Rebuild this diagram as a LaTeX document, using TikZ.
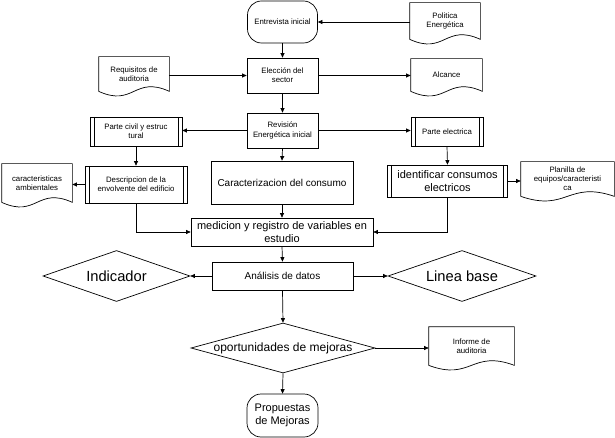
\documentclass[tikz,border=0pt]{standalone}
\usepackage{fontspec}
\setmainfont{Liberation Sans}
\usetikzlibrary{shapes.geometric,arrows.meta,calc}
\newcommand{\docoutline}[1]{%
  \draw[line width=0.7pt] (#1.south west) -- (#1.north west) -- (#1.north east) -- (#1.south east)
    .. controls ($(#1.south)+(0,-16)$) and ($(#1.south)+(0,16)$) .. (#1.south west);}
\begin{document}
\begin{tikzpicture}[x=1pt,y=-1pt,
  every node/.style={line width=0.7pt, inner sep=1pt, align=center, font=\fontsize{7.8}{9.2}\selectfont},
  box/.style={draw, rectangle},
  term/.style={draw, rectangle, rounded corners=14pt},
  sub/.style={draw, rectangle, path picture={
     \draw[line width=0.7pt] ([xshift=4pt]path picture bounding box.north west) -- ([xshift=4pt]path picture bounding box.south west);
     \draw[line width=0.7pt] ([xshift=-4pt]path picture bounding box.north east) -- ([xshift=-4pt]path picture bounding box.south east);}},
  docnode/.style={draw=none, rectangle},
  dia/.style={draw, diamond, inner sep=0pt},
  arr/.style={line width=0.7pt, -{Triangle[length=4.5pt,width=4pt]}},
  med/.style={font=\fontsize{10}{12}\selectfont},
  big/.style={font=\fontsize{11}{12.5}\selectfont},
  opof/.style={font=\fontsize{12}{14}\selectfont},
  huge/.style={font=\fontsize{14.7}{17}\selectfont}
]
\useasboundingbox (0,0) rectangle (615,438);
\fill[white] (0,0) rectangle (615,438);

\node[term, minimum width=70pt, minimum height=42pt] (ent) at (282.5,22) {Entrevista inicial};
\node[docnode, minimum width=70pt, minimum height=36pt] (pol) at (445,21) {Politica\\Energética};
\docoutline{pol}
\node[box, minimum width=71pt, minimum height=35pt] (elec) at (282.5,75.5) {Elección del\\sector};
\node[docnode, minimum width=70pt, minimum height=34pt] (req) at (134,74) {Requisitos de\\auditoria};
\docoutline{req}
\node[docnode, minimum width=71pt, minimum height=32pt] (alc) at (446.5,75) {Alcance};
\docoutline{alc}
\node[box, minimum width=71pt, minimum height=35pt] (rev) at (282.5,130.5) {Revisión\\Energética inicial};
\node[sub, minimum width=92pt, minimum height=29pt] (civ) at (136,131.5) {Parte civil y estruc\\tural};
\node[sub, minimum width=72pt, minimum height=29pt] (pel) at (447,131.5) {Parte electrica};
\node[sub, minimum width=102pt, minimum height=37pt] (desc) at (136,184.5) {Descripcion de la\\envolvente del edificio};
\node[docnode, minimum width=70pt, minimum height=38pt] (car) at (37,183) {caracteristicas\\ambientales};
\docoutline{car}
\node[box, med, minimum width=142pt, minimum height=43pt] (cons) at (282,182.5) {Caracterizacion del consumo};
\node[sub, big, minimum width=120pt, minimum height=32pt] (ide) at (447.5,181) {identificar consumos\\electricos};
\node[docnode, minimum width=93pt, minimum height=34pt] (pla) at (567.5,179) {Planilla de\\equipos/caracteristi\\ca};
\docoutline{pla}
\node[box, big, minimum width=182pt, minimum height=28pt] (med) at (282,232) {medicion y registro de variables en\\estudio};
\node[box, med, minimum width=141pt, minimum height=28pt] (ana) at (282.5,276) {Análisis de datos};
\node[dia, huge, aspect=2.88, minimum width=147pt, minimum height=51pt] (ind) at (116.5,276) {Indicador};
\node[dia, huge, aspect=2.9, minimum width=148pt, minimum height=51pt] (lin) at (462,276) {Linea base};
\node[dia, opof, aspect=3.68, minimum width=184pt, minimum height=50pt] (opo) at (283,348) {oportunidades de mejoras};
\node[docnode, minimum width=85pt, minimum height=38pt] (inf) at (471.5,346) {Informe de\\auditoria};
\docoutline{inf}
\node[term, big, minimum width=71pt, minimum height=43pt] (pro) at (282.5,415.5) {Propuestas\\de Mejoras};

\draw[arr] (pol.west |- ent.east) -- (ent.east);
\draw[arr] (ent.south) -- (elec.north);
\draw[arr] (req.east |- elec.west) -- (elec.west);
\draw[arr] (elec.east) -- (elec.east -| alc.west);
\draw[arr] (elec.south) -- (rev.north);
\draw[arr] (rev.west) -- (rev.west -| civ.east);
\draw[arr] (rev.east) -- (rev.east -| pel.west);
\draw[arr] (rev.south) -- (cons.north);
\draw[arr] (civ.south) -- (desc.north);
\draw[arr] (desc.west) -- (desc.west -| car.east);
\draw[arr] (pel.south) -- (ide.north);
\draw[arr] (ide.east) -- (ide.east -| pla.west);
\draw[arr] (cons.south) -- (med.north);
\draw[arr] (desc.south) |- (med.west);
\draw[arr] (ide.south) |- (med.east);
\draw[arr] (med.south) -- (ana.north);
\draw[arr] (ana.west) -- (ind.east);
\draw[arr] (ana.east) -- (lin.west);
\draw[arr] (ana.south) -- (opo.north);
\draw[arr] (opo.east) -- (opo.east -| inf.west);
\draw[arr] (opo.south) -- (pro.north);
\end{tikzpicture}
\end{document}
